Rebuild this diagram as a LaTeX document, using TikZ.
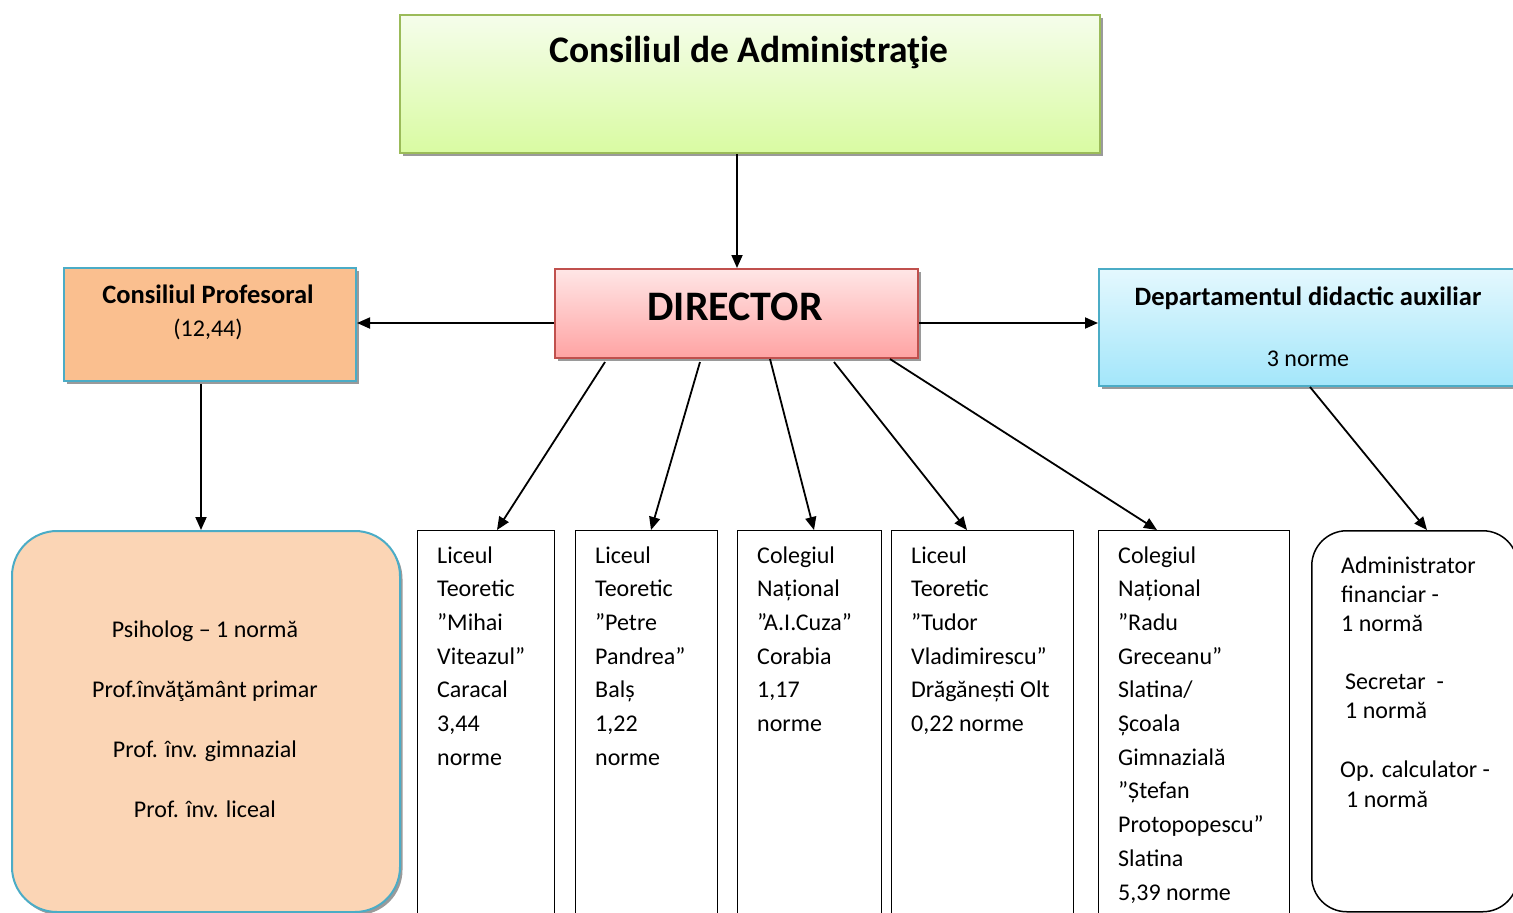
\documentclass[tikz,border=0pt]{standalone}
\usepackage{fontspec}
\setmainfont{Carlito}
\usetikzlibrary{arrows.meta,shadows,calc}
\definecolor{caTop}{HTML}{F5FDEB}
\definecolor{caBot}{HTML}{D9FBA2}
\definecolor{caLine}{HTML}{9BBB59}
\definecolor{dirTop}{HTML}{FFE6E6}
\definecolor{dirBot}{HTML}{FFA3A3}
\definecolor{dirLine}{HTML}{C0504D}
\definecolor{cpFill}{HTML}{FABF8F}
\definecolor{blueLine}{HTML}{4BACC6}
\definecolor{depTop}{HTML}{E4F8FE}
\definecolor{depBot}{HTML}{A3E6FA}
\definecolor{bigFill}{HTML}{FBD5B5}
\definecolor{shadowGray}{HTML}{9A9A9A}
\begin{document}
\begin{tikzpicture}[x=1pt,y=-1pt,
  boxbase/.style={draw, line width=2pt, anchor=north west, inner sep=0pt},
  shad/.style={drop shadow={shadow xshift=2.5pt,shadow yshift=-3pt,fill=shadowGray,opacity=1}},
  cabox/.style={boxbase, draw=caLine, top color=caTop, bottom color=caBot, shad},
  dirbox/.style={boxbase, draw=dirLine, top color=dirTop, bottom color=dirBot, shad},
  cpbox/.style={boxbase, draw=blueLine, fill=cpFill, shad},
  depbox/.style={boxbase, draw=blueLine, top color=depTop, bottom color=depBot, shad},
  bigbox/.style={boxbase, draw=blueLine, fill=bigFill, rounded corners=45pt, shad},
  schoolbox/.style={draw, line width=1.3pt, anchor=north west, inner sep=0pt, minimum height=420pt},
  admbox/.style={draw, line width=1.5pt, anchor=north west, inner sep=0pt, rounded corners=35pt},
  bodytxt/.style={font=\fontsize{24}{33.7}\selectfont, align=left, anchor=base west, inner sep=0pt},
  admtxt/.style={font=\fontsize{24}{29.3}\selectfont, align=left, anchor=base west, inner sep=0pt},
  arr/.style={line width=1.8pt, -{Triangle[length=13pt,width=11pt]}}
]
\useasboundingbox (0,0) rectangle (1513,913);
\clip (0,0) rectangle (1513,913);

% boxes
\node[cabox, minimum width=700pt, minimum height=138pt] (ca) at (399,14) {};
\node[dirbox, minimum width=363pt, minimum height=89pt] (dir) at (554,268) {};
\node[cpbox, minimum width=292pt, minimum height=113pt] (cp) at (63,267) {};
\node[depbox, minimum width=440pt, minimum height=117pt] (dep) at (1098,268) {};
\node[bigbox, minimum width=388pt, minimum height=381pt] (big) at (11,530) {};
\node[schoolbox, minimum width=137pt] (s1) at (417,530) {};
\node[schoolbox, minimum width=142pt] (s2) at (575,530) {};
\node[schoolbox, minimum width=144pt] (s3) at (737,530) {};
\node[schoolbox, minimum width=182pt] (s4) at (891,530) {};
\node[schoolbox, minimum width=191pt] (s5) at (1098,530) {};
\node[admbox, minimum width=206pt, minimum height=381pt] (adm) at (1311,530) {};

% texts (base anchor = baseline of the last line)
\node[font=\fontsize{37.5}{40}\selectfont\bfseries, anchor=base, inner sep=0pt] (catxt) at (749,62) {Consiliul de Administraţie};
\node[font=\fontsize{42}{44}\selectfont\bfseries, anchor=base, inner sep=0pt] (dirtxt) at (735,320) {DIRECTOR};
\node[font=\fontsize{26.5}{30}\selectfont\bfseries, anchor=base, inner sep=0pt] (cptxt) at (208,303) {Consiliul Profesoral};
\node[font=\fontsize{24}{30}\selectfont, anchor=base, inner sep=0pt] (cpnum) at (208,336) {(12,44)};
\node[font=\fontsize{26.5}{30}\selectfont\bfseries, anchor=base, inner sep=0pt] (deptxt) at (1308,305) {Departamentul didactic auxiliar};
\node[font=\fontsize{24}{30}\selectfont, anchor=base, inner sep=0pt] (depnum) at (1308,366) {3 norme};
\node[font=\fontsize{24}{60}\selectfont, align=center, anchor=base, inner sep=0pt] (bigtxt) at (205,817) {Psiholog – 1 normă\\Prof.învăţământ primar\\Prof. înv. gimnazial\\Prof. înv. liceal};

\node[bodytxt] (t1) at (437,765.2) {Liceul\\Teoretic\\”Mihai\\Viteazul”\\Caracal\\3,44\\norme};
\node[bodytxt] (t2) at (595,765.2) {Liceul\\Teoretic\\”Petre\\Pandrea”\\Balș\\1,22\\norme};
\node[bodytxt] (t3) at (757,731.5) {Colegiul\\Național\\”A.I.Cuza”\\Corabia\\1,17\\norme};
\node[bodytxt] (t4) at (911,731.5) {Liceul\\Teoretic\\”Tudor\\Vladimirescu”\\Drăgănești Olt\\0,22 norme};
\node[bodytxt] (t5) at (1118,900) {Colegiul\\Național\\”Radu\\Greceanu”\\Slatina/\\Școala\\Gimnazială\\”Ștefan\\Protopopescu”\\Slatina\\5,39 norme};

\node[admtxt] (a1) at (1341,631.6) {Administrator\\financiar -\\1 normă};
\node[admtxt] (a2) at (1345,718.3) {Secretar~ -\\1 normă};
\node[admtxt] (a3) at (1340,777) {Op. calculator -};
\node[admtxt] (a4) at (1346,807) {1 normă};

% connectors
\draw[arr] ($(ca.south west)+(338,0)$) -- ($(dir.north west)+(183,0)$);
\draw[arr] ($(dir.west)+(0,9.5)$) coordinate (dl) -- (dl -| cp.east);
\draw[arr] ($(dir.east)+(0,9.5)$) coordinate (dr) -- (dr -| dep.west);
\draw[arr] ($(cp.south west)+(138,2)$) -- ($(big.north west)+(190,0)$);
\draw[arr] ($(dir.south west)+(51,3)$) -- ($(s1.north west)+(80,0)$);
\draw[arr] ($(dir.south west)+(146,3)$) -- ($(s2.north west)+(76,0)$);
\draw[arr] ($(dir.south west)+(216,0)$) -- ($(s3.north west)+(77,0)$);
\draw[arr] ($(dir.south west)+(280,3)$) -- ($(s4.north west)+(76,0)$);
\draw[arr] ($(dir.south west)+(336,0)$) -- ($(s5.north west)+(59,0)$);
\draw[arr] ($(dep.south west)+(212,0)$) -- ($(adm.north west)+(116,0)$);
\end{tikzpicture}
\end{document}
